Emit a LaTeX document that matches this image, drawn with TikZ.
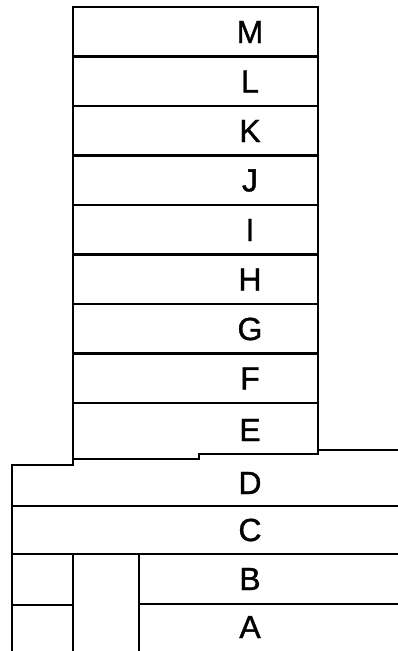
\documentclass[tikz,border=0pt]{standalone}
\usepackage{fontspec}
\setmainfont{Liberation Sans}
\newfontfamily\lblfont[FakeBold=1.2]{Liberation Sans}
\usetikzlibrary{positioning}
\tikzset{
  wall/.style={line width=2.2pt, line cap=rect},
  floorlbl/.style={font=\lblfont\fontsize{24}{26}\selectfont, inner sep=0pt}
}

\begin{document}
\begin{tikzpicture}[x=0.75pt, y=-0.75pt]
  \useasboundingbox (0,0) rectangle (398,651);
  % upper block
  \draw[wall] (73,465) -- (73,7) -- (318,7) -- (318,453);
  \foreach \y in {56.5, 106, 155.5, 205, 254.5, 304, 353.5, 403} {
    \draw[wall] (73,\y) -- (318,\y);
  }
  \draw[wall] (73,459) -- (199,459) -- (199,454) -- (318,454);
  \draw[wall] (318,450) -- (398,450);
  % lower block
  \draw[wall] (73,465) -- (12,465) -- (12,651);
  \draw[wall] (12,506) -- (398,506);
  \draw[wall] (12,554) -- (398,554);
  \draw[wall] (139,604) -- (398,604);
  \draw[wall] (12,605) -- (73,605);
  \draw[wall] (73,554) -- (73,651);
  \draw[wall] (139,554) -- (139,651);
  % labels
  \foreach \name [count=\i from 0] in {M, L, K, J, I, H, G, F} {
    \node[floorlbl] (lbl\name) at (250, {32+49.5*\i}) {\name};
  }
  \node[floorlbl] (lblE) at (250,430) {E};
  \node[floorlbl] (lblD) at (250,483) {D};
  \node[floorlbl] (lblC) at (250,530) {C};
  \node[floorlbl] (lblB) at (250,579) {B};
  \node[floorlbl] (lblA) at (250,627) {A};
\end{tikzpicture}
\end{document}
